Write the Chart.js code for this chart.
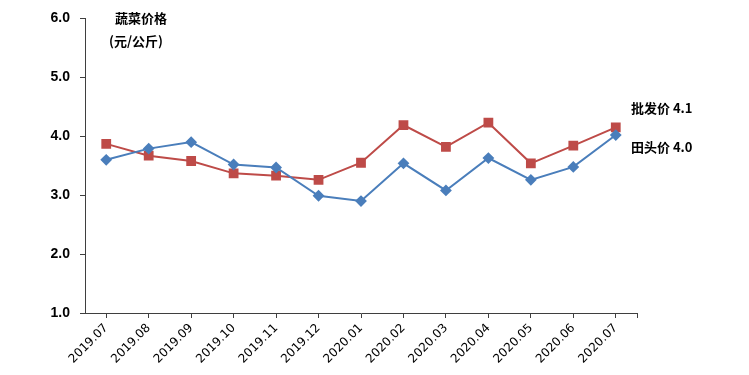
<!DOCTYPE html>
<html>
<head>
<meta charset="utf-8">
<script src="https://cdn.jsdelivr.net/npm/chart.js@4/dist/chart.umd.min.js"></script>
<style>
html,body{margin:0;padding:0;background:#fff;}
#wrap{width:749px;height:375px;position:relative;}
</style>
</head>
<body>
<div id="wrap"><canvas id="c" width="749" height="375"></canvas></div>
<script>
const categories = ["2019.07","2019.08","2019.09","2019.10","2019.11","2019.12","2020.01","2020.02","2020.03","2020.04","2020.05","2020.06","2020.07"];
const wholesalePrice = [3.87,3.67,3.58,3.37,3.33,3.26,3.55,4.19,3.82,4.23,3.54,3.84,4.15];
const farmPrice = [3.60,3.79,3.90,3.52,3.47,2.99,2.90,3.54,3.08,3.63,3.26,3.48,4.02];
const yTicks = [1,2,3,4,5,6];
const titleLines = ["蔬菜价格","(元/公斤)"];
const seriesLabels = ["批发价 4.1","田头价 4.0"];

const AXIS = "#3f3f3f";
const textPlugin = {
  id: 'texts',
  afterDraw(chart) {
    const ctx = chart.ctx;
    ctx.save();
    ctx.fillStyle = "#000";
    ctx.font = "bold 13px 'Noto Sans CJK SC'";
    ctx.textBaseline = "middle";
    ctx.textAlign = "left";
    ctx.fillText(titleLines[0], 115, 18);
    ctx.fillText(titleLines[1], 109, 41);
    ctx.fillText(seriesLabels[0], 631, 108);
    ctx.fillText(seriesLabels[1], 631, 147);
    // right end tick of x axis
    const a = chart.chartArea;
    ctx.strokeStyle = AXIS;
    ctx.lineWidth = 1;
    ctx.beginPath();
    ctx.moveTo(Math.round(a.right) + 0.5, a.bottom);
    ctx.lineTo(Math.round(a.right) + 0.5, a.bottom + 5);
    ctx.stroke();
    ctx.restore();
  }
};

new Chart(document.getElementById('c'), {
  type: 'line',
  data: {
    labels: categories,
    datasets: [
      {
        label: '田头价',
        data: farmPrice,
        borderColor: '#4A7EBB',
        backgroundColor: '#4A7EBB',
        borderWidth: 2,
        pointStyle: 'rectRot',
        pointRadius: 4.5,
        pointHoverRadius: 4.5,
        tension: 0
      },
      {
        label: '批发价',
        data: wholesalePrice,
        borderColor: '#BE4B48',
        backgroundColor: '#BE4B48',
        borderWidth: 2,
        pointStyle: 'rect',
        pointRadius: 5.5,
        pointHoverRadius: 5.5,
        tension: 0
      }
    ]
  },
  options: {
    responsive: false,
    animation: false,
    events: [],
    layout: { padding: { top: 17, right: 112, left: 0, bottom: 0 } },
    plugins: { legend: { display: false }, tooltip: { enabled: false } },
    scales: {
      x: {
        type: 'category',
        offset: true,
        grid: { display: true, drawOnChartArea: false, offset: false, color: AXIS, tickLength: 5 },
        border: { display: true, color: AXIS, width: 1 },
        ticks: {
          autoSkip: false, minRotation: 45, maxRotation: 45, padding: 3,
          color: '#000',
          font: { family: "'DejaVu Sans'", size: 12 }
        },
        afterFit(s) { s.height = 62; }
      },
      y: {
        min: 1, max: 6,
        afterBuildTicks(s) { s.ticks = yTicks.map(v => ({ value: v })); },
        grid: { display: true, drawOnChartArea: false, color: AXIS, tickLength: 5 },
        border: { display: true, color: AXIS, width: 1 },
        ticks: {
          color: '#000', padding: 10,
          font: { family: "'Liberation Sans', Arial", size: 14, weight: 'bold' },
          callback: (v) => Number(v).toFixed(1)
        },
        afterFit(s) { s.width = 85; }
      }
    }
  },
  plugins: [textPlugin]
});
</script>
</body>
</html>
